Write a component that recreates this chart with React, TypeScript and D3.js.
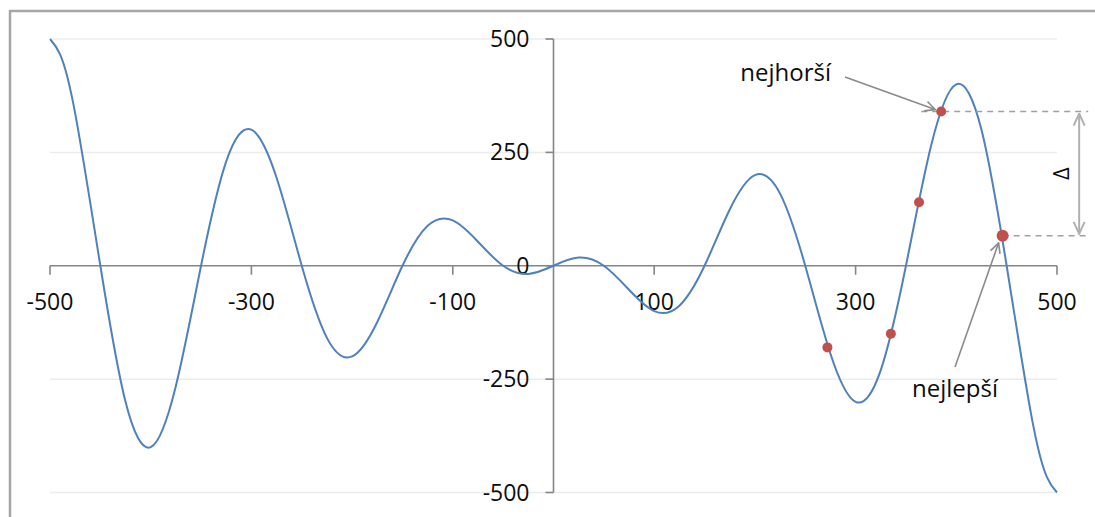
import React, { useEffect, useRef } from "react";
import * as d3 from "d3";

// curve samples (every 25 units, plus the two ends more closely)
const curveX = [
  -500, -490, -475, -450, -425, -400, -375, -350, -325, -300, -275, -250, -225, -200, -175,
  -150, -125, -100, -75, -50, -25, 0, 25, 50, 75, 100, 125, 150, 175, 200, 225, 250,
  275, 300, 325, 350, 375, 400, 425, 450, 475, 490, 500,
];
const curveY = [
  500, 466, 336, 0, -300, -400, -265, 0, 230, 300, 194, 0, -159, -200, -124,
  0, 88, 100, 53, 0, -18, 0, 18, 0, -53, -100, -88, 0, 124, 200, 159, 0,
  -194, -300, -230, 0, 265, 400, 300, 0, -336, -466, -500,
];

// red sample points
const dotX = [272, 335, 363, 385, 446];
const dotY = [-180, -150, 140, 340, 66];
const worstIdx = 3;
const bestIdx = 4;

const xTicks = [-500, -300, -100, 100, 300, 500];
const yTicks = [500, 250, 0, -250, -500];

const W = 1095;
const H = 517;

export default function App() {
  const ref = useRef<SVGSVGElement>(null);

  useEffect(() => {
    const svg = d3.select(ref.current);
    svg.selectAll("*").remove();

    const x = d3.scaleLinear().domain([-500, 500]).range([50, 1057]);
    const y = d3.scaleLinear().domain([-500, 500]).range([492.5, 39]);
    const font = "'Open Sans', sans-serif";
    const ink = "#0d0d0d";

    const defs = svg.append("defs");
    defs.append("marker")
      .attr("id", "arr")
      .attr("viewBox", "0 0 12 12")
      .attr("refX", 11).attr("refY", 6)
      .attr("markerWidth", 12).attr("markerHeight", 12)
      .attr("markerUnits", "userSpaceOnUse")
      .attr("orient", "auto-start-reverse")
      .append("path")
      .attr("d", "M1,1 L11,6 L1,11")
      .attr("fill", "none")
      .attr("stroke", "#8a8a8a")
      .attr("stroke-width", 1.6);
    defs.append("marker")
      .attr("id", "arrd")
      .attr("viewBox", "0 0 14 14")
      .attr("refX", 13).attr("refY", 7)
      .attr("markerWidth", 14).attr("markerHeight", 14)
      .attr("markerUnits", "userSpaceOnUse")
      .attr("orient", "auto-start-reverse")
      .append("path")
      .attr("d", "M1,1.5 L13,7 L1,12.5")
      .attr("fill", "none")
      .attr("stroke", "#b0b0b0")
      .attr("stroke-width", 2);

    // outer frame
    svg.append("rect")
      .attr("x", 10).attr("y", 11)
      .attr("width", W + 20).attr("height", H + 20)
      .attr("fill", "#fff")
      .attr("stroke", "#a6a6a6")
      .attr("stroke-width", 2.5);

    // gridlines
    svg.append("g")
      .selectAll("line")
      .data(yTicks.filter(d => d !== 0))
      .enter()
      .append("line")
      .attr("x1", x(-500)).attr("x2", x(500))
      .attr("y1", d => y(d)).attr("y2", d => y(d))
      .attr("stroke", "#ececec")
      .attr("stroke-width", 1.5);

    // x axis at y = 0
    const axisColor = "#868686";
    svg.append("line")
      .attr("x1", x(-500)).attr("x2", x(500))
      .attr("y1", y(0)).attr("y2", y(0))
      .attr("stroke", axisColor).attr("stroke-width", 1.6);
    svg.append("g")
      .selectAll("line")
      .data(xTicks)
      .enter()
      .append("line")
      .attr("x1", d => x(d)).attr("x2", d => x(d))
      .attr("y1", y(0)).attr("y2", y(0) + 9)
      .attr("stroke", axisColor).attr("stroke-width", 1.6);
    svg.append("g")
      .selectAll("text")
      .data(xTicks)
      .enter()
      .append("text")
      .attr("x", d => x(d))
      .attr("y", y(0) + 44)
      .attr("text-anchor", "middle")
      .attr("font-family", font)
      .attr("font-size", 23)
      .attr("fill", ink)
      .text(d => d);

    // y axis at x = 0
    svg.append("line")
      .attr("x1", x(0)).attr("x2", x(0))
      .attr("y1", y(500)).attr("y2", y(-500))
      .attr("stroke", axisColor).attr("stroke-width", 1.6);
    svg.append("g")
      .selectAll("line")
      .data(yTicks)
      .enter()
      .append("line")
      .attr("x1", x(0) - 8).attr("x2", x(0))
      .attr("y1", d => y(d)).attr("y2", d => y(d))
      .attr("stroke", axisColor).attr("stroke-width", 1.6);
    svg.append("g")
      .selectAll("text")
      .data(yTicks)
      .enter()
      .append("text")
      .attr("x", x(0) - 24)
      .attr("y", d => y(d))
      .attr("dy", "0.35em")
      .attr("text-anchor", "end")
      .attr("font-family", font)
      .attr("font-size", 23)
      .attr("fill", ink)
      .text(d => d);

    // the curve
    const line = d3.line<number>()
      .x((d, i) => x(curveX[i]))
      .y(d => y(d))
      .curve(d3.curveNatural);
    svg.append("path")
      .attr("d", line(curveY))
      .attr("fill", "none")
      .attr("stroke", "#4f81bd")
      .attr("stroke-width", 2);

    // delta guides
    const px4 = x(dotX[worstIdx]), py4 = y(dotY[worstIdx]);
    const px5 = x(dotX[bestIdx]), py5 = y(dotY[bestIdx]);
    const guideEnd = x(531);
    svg.append("line")
      .attr("x1", px4 - 20).attr("x2", guideEnd)
      .attr("y1", py4).attr("y2", py4)
      .attr("stroke", "#a0a0a0").attr("stroke-width", 1.5)
      .attr("stroke-dasharray", "6,5");
    svg.append("line")
      .attr("x1", px5).attr("x2", guideEnd)
      .attr("y1", py5).attr("y2", py5)
      .attr("stroke", "#a0a0a0").attr("stroke-width", 1.5)
      .attr("stroke-dasharray", "6,5");

    const ax = x(522);
    svg.append("line")
      .attr("x1", ax).attr("x2", ax)
      .attr("y1", py4 + 2).attr("y2", py5 - 2)
      .attr("stroke", "#b0b0b0").attr("stroke-width", 2)
      .attr("marker-start", "url(#arrd)")
      .attr("marker-end", "url(#arrd)");

    svg.append("text")
      .attr("transform", `translate(${ax - 10},${(py4 + py5) / 2}) rotate(-90)`)
      .attr("text-anchor", "middle")
      .attr("font-family", font)
      .attr("font-size", 22)
      .attr("fill", ink)
      .text("Δ");

    // annotation arrows
    const s1 = [845, 77];
    svg.append("line")
      .attr("x1", s1[0]).attr("y1", s1[1])
      .attr("x2", px4 - 6).attr("y2", py4 - 2)
      .attr("stroke", "#8a8a8a").attr("stroke-width", 1.6)
      .attr("marker-end", "url(#arr)");
    svg.append("text")
      .attr("x", s1[0] - 14).attr("y", s1[1] + 4)
      .attr("text-anchor", "end")
      .attr("font-family", font)
      .attr("font-size", 24)
      .attr("fill", ink)
      .text("nejhorší");

    const s2 = [955, 367];
    svg.append("line")
      .attr("x1", s2[0]).attr("y1", s2[1])
      .attr("x2", px5 - 4).attr("y2", py5 + 7)
      .attr("stroke", "#8a8a8a").attr("stroke-width", 1.6)
      .attr("marker-end", "url(#arr)");
    svg.append("text")
      .attr("x", s2[0]).attr("y", s2[1] + 30)
      .attr("text-anchor", "middle")
      .attr("font-family", font)
      .attr("font-size", 24)
      .attr("fill", ink)
      .text("nejlepší");

    // dots
    svg.append("g")
      .selectAll("circle")
      .data(dotY)
      .enter()
      .append("circle")
      .attr("cx", (d, i) => x(dotX[i]))
      .attr("cy", d => y(d))
      .attr("r", (d, i) => (i === bestIdx ? 6 : 5))
      .attr("fill", "#c0504d");
  }, []);

  return (
    <svg
      ref={ref}
      width={W}
      height={H}
      style={{ position: "absolute", left: 0, top: 0, background: "#fff" }}
    />
  );
}
